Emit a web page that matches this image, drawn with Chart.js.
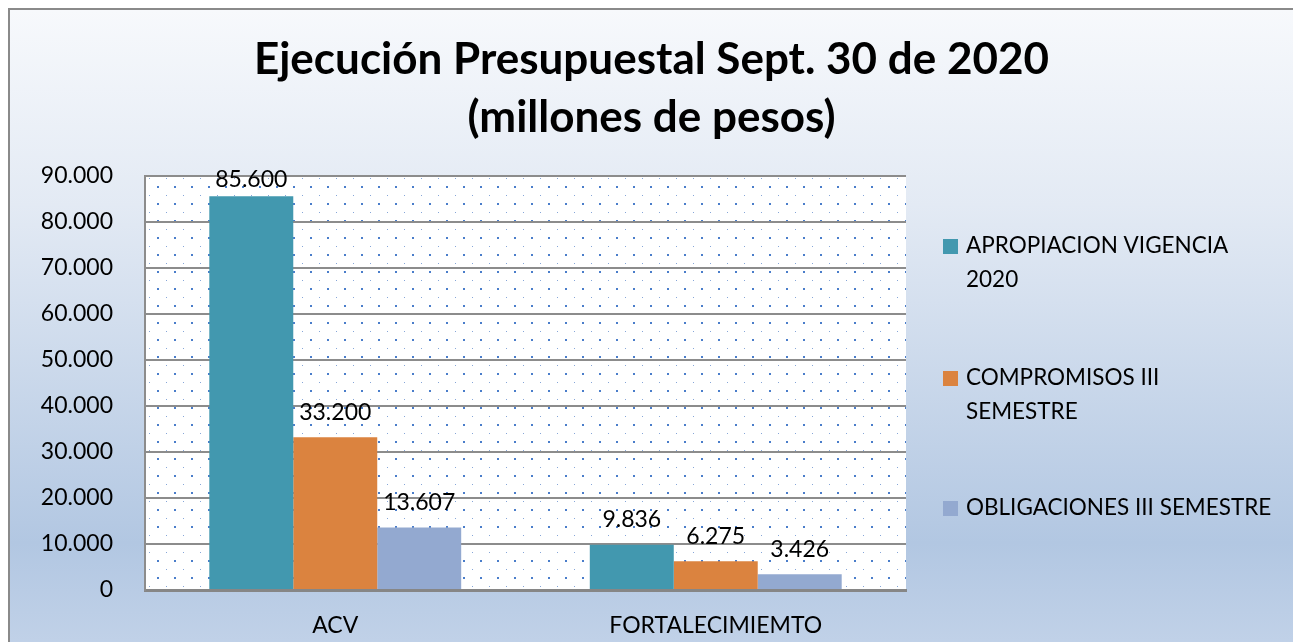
<!DOCTYPE html>
<html>
<head>
<meta charset="utf-8">
<script src="https://cdn.jsdelivr.net/npm/chart.js@4/dist/chart.umd.min.js"></script>
<style>
  html, body { margin: 0; padding: 0; overflow: hidden; background: #fff; }
  #frame {
    position: absolute; left: 8px; top: 8px;
    width: 1300px; height: 650px;
    border: 2px solid #8a8a8a;
    background: linear-gradient(to bottom, #f7f9fc 0%, #e3eaf4 30%, #b2c7e2 82%, #c3d3e9 100%);
  }
  #wrap { position: absolute; left: 0; top: 0; width: 1283px; height: 632px; }
</style>
</head>
<body>
<div id="frame"><div id="wrap"><canvas id="chart"></canvas></div></div>
<script>
const titleLines = ['Ejecución Presupuestal Sept. 30 de 2020', '(millones de pesos)'];
const categories = ['ACV', 'FORTALECIMIEMTO'];
const seriesNames = [
  ['APROPIACION VIGENCIA', '2020'],
  ['COMPROMISOS III', 'SEMESTRE'],
  ['OBLIGACIONES III SEMESTRE'],
];
const apropiacion = [85600, 9836];
const compromisos = [33200, 6275];
const obligaciones = [13607, 3426];
const seriesColors = ['#4298af', '#db833f', '#93a9d0'];

const FONT = 'Lato, "Open Sans", sans-serif';

function fmt(v) {
  return String(Math.round(v)).replace(/\B(?=(\d{3})+(?!\d))/g, '.');
}

// dotted plot-area fill
function makePattern(ctx) {
  const c = document.createElement('canvas');
  c.width = 17; c.height = 17;
  const g = c.getContext('2d');
  g.fillStyle = '#ffffff';
  g.fillRect(0, 0, 17, 17);
  g.fillStyle = '#4a7dca';
  g.fillRect(8, 8, 2, 2);
  g.fillStyle = '#86a6d8';
  g.fillRect(0, 0, 1, 1);
  return ctx.createPattern(c, 'repeat');
}

const plotBackground = {
  id: 'plotBackground',
  beforeDraw(chart) {
    const { ctx, chartArea: a } = chart;
    const p = makePattern(ctx);
    p.setTransform(new DOMMatrix().translate(a.left + 4, a.top + 2));
    ctx.save();
    ctx.fillStyle = p;
    ctx.fillRect(a.left, a.top, a.right - a.left, a.bottom - a.top);
    ctx.restore();
  },
};

const titlePlugin = {
  id: 'titlePlugin',
  afterDraw(chart) {
    const ctx = chart.ctx;
    ctx.save();
    ctx.fillStyle = '#000';
    ctx.font = 'bold 44px ' + FONT;
    ctx.textAlign = 'center';
    ctx.textBaseline = 'middle';
    titleLines.forEach((t, i) => ctx.fillText(t, chart.width / 2, 50 + i * 58));
    ctx.restore();
  },
};

const legendPlugin = {
  id: 'legendPlugin',
  afterDraw(chart) {
    const ctx = chart.ctx;
    const x = 933, tops = [236, 368, 498];
    ctx.save();
    ctx.font = '22.5px ' + FONT;
    ctx.textBaseline = 'middle';
    ctx.textAlign = 'left';
    chart.data.datasets.forEach((ds, i) => {
      ctx.fillStyle = ds.backgroundColor;
      ctx.fillRect(x, tops[i] - 7, 15, 15);
      ctx.fillStyle = '#000';
      seriesNames[i].forEach((line, j) => ctx.fillText(line, x + 23, tops[i] + j * 34));
    });
    ctx.restore();
  },
};

const valueLabels = {
  id: 'valueLabels',
  afterDatasetsDraw(chart) {
    const ctx = chart.ctx;
    ctx.save();
    ctx.font = '23px ' + FONT;
    ctx.fillStyle = '#000';
    ctx.textAlign = 'center';
    ctx.textBaseline = 'middle';
    chart.data.datasets.forEach((ds, i) => {
      chart.getDatasetMeta(i).data.forEach((bar, j) => {
        const y = Math.max(bar.y - 25, chart.chartArea.top + 4);
        ctx.fillText(fmt(ds.data[j]), bar.x, y);
      });
    });
    ctx.restore();
  },
};

new Chart(document.getElementById('chart'), {
  type: 'bar',
  data: {
    labels: categories,
    datasets: [
      { label: seriesNames[0].join(' '), data: apropiacion, backgroundColor: seriesColors[0] },
      { label: seriesNames[1].join(' '), data: compromisos, backgroundColor: seriesColors[1] },
      { label: seriesNames[2].join(' '), data: obligaciones, backgroundColor: seriesColors[2] },
    ],
  },
  options: {
    responsive: true,
    maintainAspectRatio: false,
    animation: false,
    layout: { padding: { top: 166, right: 387, left: 0, bottom: 0 } },
    datasets: { bar: { categoryPercentage: 0.662, barPercentage: 1, borderWidth: 0 } },
    plugins: { legend: { display: false }, title: { display: false }, tooltip: { enabled: false } },
    scales: {
      x: {
        grid: { display: false, drawTicks: false },
        border: { display: true, color: '#868686', width: 3 },
        ticks: { color: '#000', font: { family: FONT, size: 23 }, padding: 22 },
        afterFit(s) { s.height = 52; },
      },
      y: {
        min: 0, max: 90000,
        grid: { color: '#8c8c8c', lineWidth: 2, drawTicks: false },
        border: { display: true, color: '#8c8c8c', width: 2 },
        ticks: { stepSize: 10000, color: '#000', font: { family: FONT, size: 23 }, padding: 32, callback: v => fmt(v) },
        afterFit(s) { s.width = 135; },
      },
    },
  },
  plugins: [plotBackground, titlePlugin, legendPlugin, valueLabels],
});
</script>
</body>
</html>
